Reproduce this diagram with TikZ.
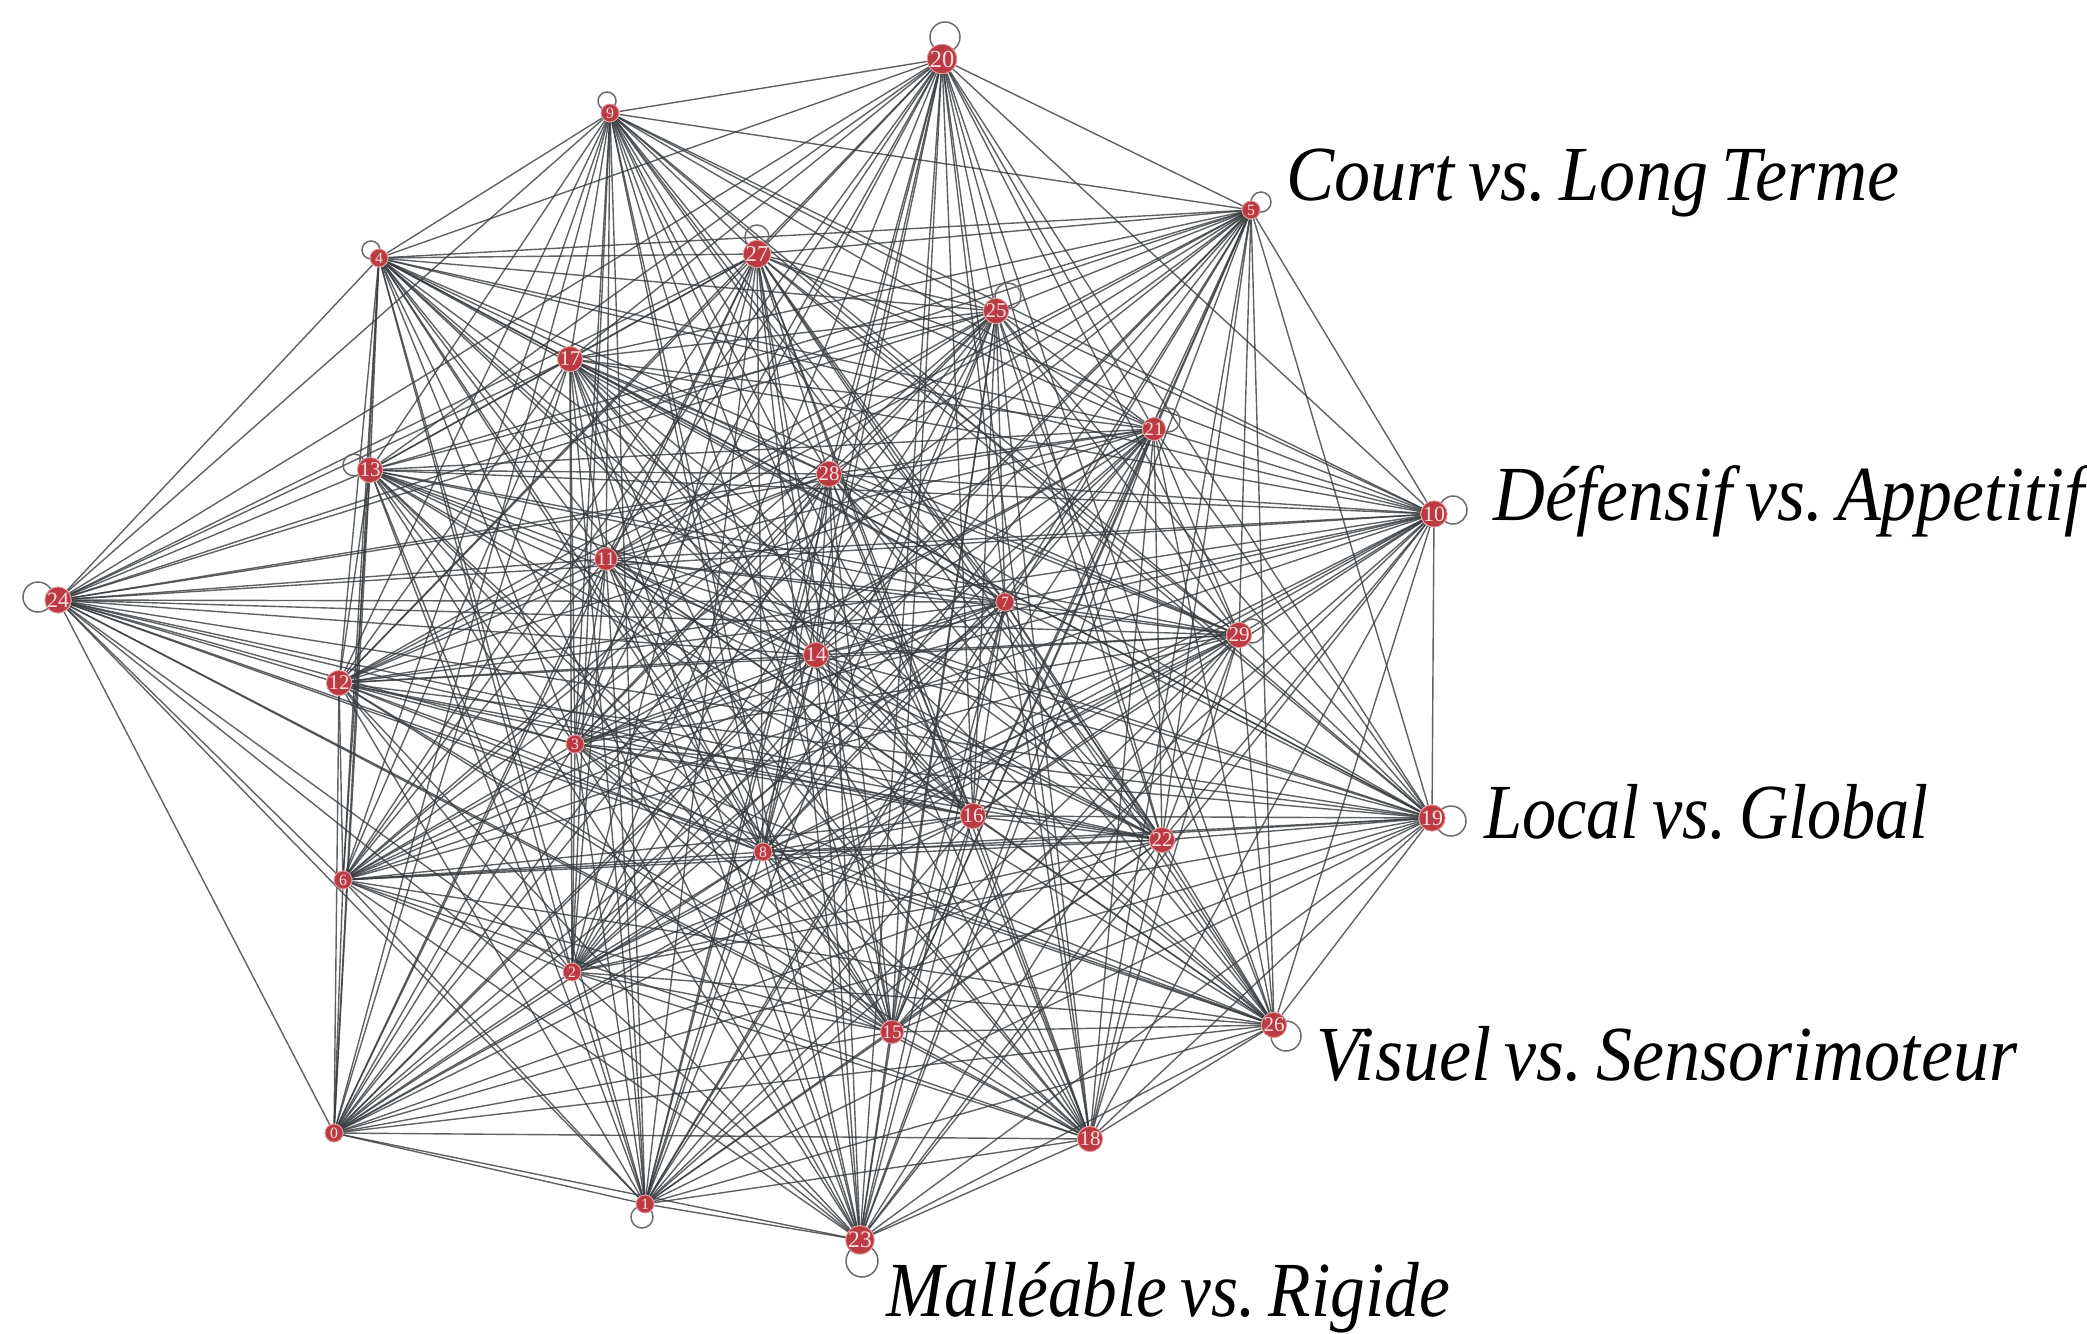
\documentclass[tikz,border=0pt]{standalone}
\usepackage{fontspec}
\setmainfont{Liberation Serif}[WordSpace=0.75]
\frenchspacing
\usetikzlibrary{calc,backgrounds}
\definecolor{nodered}{HTML}{BC3A42}
\definecolor{noderim}{HTML}{E3999C}
\definecolor{nodetxt}{HTML}{F8E1E1}
\definecolor{edgegray}{HTML}{363B3E}
\tikzset{
  vert/.style={circle, fill=nodered, draw=noderim, line width=0.9pt, inner sep=0pt, text=nodetxt},
  edge/.style={draw=edgegray, line width=1.4pt, draw opacity=0.8},
  loopst/.style={draw=gray!85!black, line width=1.5pt},
  lab/.style={inner sep=0pt, font=\fontsize{78pt}{80pt}\selectfont\itshape\frenchspacing}
}
\begin{document}
\begin{tikzpicture}[x=1pt,y=-1pt]
\useasboundingbox (0,0) rectangle (2087,1333);
\foreach \id/\x/\y/\r in {
 0/334/1133/9, 1/645/1204/9, 2/572/972/9, 3/575/744/9, 4/379/258/9,
 5/1251/210/9, 6/343/880/9, 7/1005/602/9, 8/763/852/9, 9/610/113/9,
 10/1434/514/12.5, 11/606/559/11, 12/339/683/12, 13/370/470/12, 14/816/655/12,
 15/892/1032/11, 16/973/816/12, 17/570/359/12, 18/1090/1139/12, 19/1432/818/12.5,
 20/942/59/14, 21/1154/429/11, 22/1162/840/12, 23/860/1240/13.5, 24/58/600/12.5,
 25/996/311/12, 26/1274/1025/12, 27/757/254/13, 28/829/474/12, 29/1239/635/12}{
  \pgfmathsetmacro\fs{1.75*\r}
  \node[vert, minimum size=2*\r pt, font=\fontsize{\fs pt}{\fs pt}\selectfont] (n\id) at (\x,\y) {\id};
}
\begin{pgfonlayer}{background}
\foreach \i in {0,...,28}{
  \pgfmathtruncatemacro\st{\i+1}
  \foreach \j in {\st,...,29}{
    \draw[edge] (n\i) -- (n\j);
  }
}
\foreach \id/\dx/\dy/\r in {20/3/-22/15, 9/-3/-12/9, 5/10/-8/10, 27/0/-17/12, 4/-8/-8/9,
  25/12/-15/13, 21/14/-9/12, 10/19/-4/14, 13/-16/-5/11, 24/-20/-3/15, 29/13/-4/12,
  19/19/3/15, 26/12/11/15, 23/2/21/16, 1/-3/13/11}{
  \draw[loopst] ($(n\id.center)+(\dx,\dy)$) circle[radius=\r pt];
}
\end{pgfonlayer}
\node[lab, anchor=base west] (l1) at (1286,200) {\scalebox{0.925}[1]{Court vs. Long Terme}};
\node[lab, anchor=base west] (l2) at (1493,520) {\scalebox{0.92}[1]{Défensif vs. Appetitif}};
\node[lab, anchor=base west] (l3) at (1484,838) {\scalebox{0.875}[1]{Local vs. Global}};
\node[lab, anchor=base west] (l4) at (1316,1080) {\scalebox{0.925}[1]{Visuel vs. Sensorimoteur}};
\node[lab, anchor=base west] (l5) at (886,1316) {\scalebox{0.89}[1]{Malléable vs. Rigide}};
\end{tikzpicture}
\end{document}
